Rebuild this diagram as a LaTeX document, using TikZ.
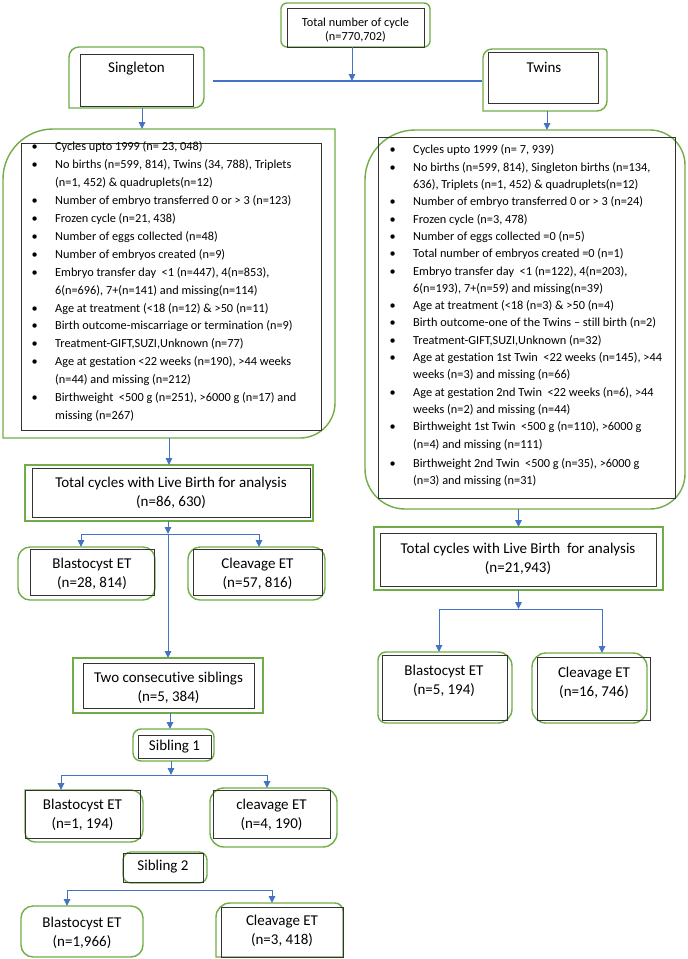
\documentclass[tikz,border=0pt]{standalone}
\usepackage{fontspec}
\setmainfont{Carlito}[Ligatures=NoCommon]
\usetikzlibrary{calc,arrows.meta}
\definecolor{grn}{HTML}{70AD47}
\definecolor{blu}{HTML}{4472C4}
\newcommand\mkbox[6][]{\node[#1, minimum width={#5-#3}, minimum height={#6-#4}] (#2) at ({(#3+#5)/2},{(#4+#6)/2}) {};}
\newcommand\gfr[5]{%
 \draw[gline]
  ($(#1.north west)+(#2,0)$) -- ($(#1.north east)+(-#3,0)$)
  .. controls ($(#1.north east)+(-0.45*#3,0)$) and ($(#1.north east)+(0,0.45*#3)$) .. ($(#1.north east)+(0,#3)$)
  -- ($(#1.south east)+(0,-#4)$)
  .. controls ($(#1.south east)+(0,-0.45*#4)$) and ($(#1.south east)+(-0.45*#4,0)$) .. ($(#1.south east)+(-#4,0)$)
  -- ($(#1.south west)+(#5,0)$)
  .. controls ($(#1.south west)+(0.45*#5,0)$) and ($(#1.south west)+(0,-0.45*#5)$) .. ($(#1.south west)+(0,-#5)$)
  -- ($(#1.north west)+(0,#2)$)
  .. controls ($(#1.north west)+(0,0.45*#2)$) and ($(#1.north west)+(0.45*#2,0)$) .. ($(#1.north west)+(#2,0)$)
  -- cycle;}
\tikzset{
 frm/.style={rectangle, inner sep=0pt, outer sep=0pt},
 bbox/.style={rectangle, draw=black!80, line width=0.8pt, inner sep=0pt, outer sep=0pt},
 gline/.style={draw=grn, line width=1.4pt},
 arr/.style={draw=blu, line width=0.9pt, -{Triangle[width=6.5pt,length=7pt]}},
 bln/.style={draw=blu, line width=0.9pt},
 btxt/.style={align=center, inner sep=0pt, font=\fontsize{15}{19}\selectfont},
 ltxt/.style={anchor=base west, inner sep=0pt},
}
\begin{document}
\begin{tikzpicture}[x=1pt,y=-1pt]
\useasboundingbox (0,0) rectangle (688,959);
% ---------- top
\mkbox[frm]{TotF}{281}{3}{430}{47}
\gfr{TotF}{6}{6}{6}{6}
\mkbox[bbox]{TotB}{287}{8}{424}{47}
\node[align=center, inner sep=0pt, font=\fontsize{12.3}{14}\selectfont] (TotT) at (355.5,30) {Total number of cycle\\(n=770,702)};
\coordinate (hT) at (352,81);
\coordinate (hL) at (213,81);
\coordinate (hR) at (482,81);
\draw[arr] (TotF.south -| hT) -- (hT);
\draw[draw=blu, line width=2pt] (hL) -- (hR);
% Singleton
\mkbox[frm]{SgF}{69}{47}{204}{108}
\gfr{SgF}{10}{3}{10}{0}
\mkbox[bbox]{SgB}{80}{54}{193}{106}
\node[btxt] (SgT) at (136.5,69) {Singleton};
% Twins
\mkbox[frm]{TwF}{483}{49}{607}{111}
\gfr{TwF}{9}{3}{10}{0}
\mkbox[bbox]{TwB}{488}{52}{598}{103}
\node[btxt] (TwT) at (544,67) {Twins};
% ---------- singleton list
\mkbox[frm]{SLF}{3}{129}{335}{438}
\gfr{SLF}{50}{0}{35}{0}
\mkbox[bbox]{SLB}{21}{143}{321}{430}
\node[ltxt, font=\fontsize{12.3}{17.9}\selectfont] (SLT) at (31.5,150.9) {\begin{tabular}[t]{@{}p{23.5pt}@{}l@{}}
\textbullet & Cycles upto 1999 (n= 23, 048)\\
\textbullet & No births (n=599, 814), Twins (34, 788), Triplets\\
 & (n=1, 452) \& quadruplets(n=12)\\
\textbullet & Number of embryo transferred 0 or > 3 (n=123)\\
\textbullet & Frozen cycle (n=21, 438)\\
\textbullet & Number of eggs collected (n=48)\\
\textbullet & Number of embryos created (n=9)\\
\textbullet & Embryo transfer day\ \ <1 (n=447), 4(n=853),\\
 & 6(n=696), 7+(n=141) and missing(n=114)\\
\textbullet & Age at treatment (<18 (n=12) \& >50 (n=11)\\
\textbullet & Birth outcome-miscarriage or termination (n=9)\\
\textbullet & Treatment-GIFT,SUZI,Unknown (n=77)\\
\textbullet & Age at gestation <22 weeks (n=190), >44 weeks\\
 & (n=44) and missing (n=212)\\
\textbullet & Birthweight\ \ <500 g (n=251), >6000 g (n=17) and\\
 & missing (n=267)
\end{tabular}};
% ---------- twins list
\mkbox[frm]{TLF}{365}{130}{685}{509}
\gfr{TLF}{50}{35}{35}{40}
\mkbox[bbox]{TLB}{378}{137}{675}{498}
\node[ltxt, font=\fontsize{12.3}{17.3}\selectfont] (TLT) at (389.5,153.9) {\begin{tabular}[t]{@{}p{23.5pt}@{}l@{}}
\textbullet & Cycles upto 1999 (n= 7, 939)\\
\textbullet & No births (n=599, 814), Singleton births (n=134,\\
 & 636), Triplets (n=1, 452) \& quadruplets(n=12)\\
\textbullet & Number of embryo transferred 0 or > 3 (n=24)\\
\textbullet & Frozen cycle (n=3, 478)\\
\textbullet & Number of eggs collected =0 (n=5)\\
\textbullet & Total number of embryos created =0 (n=1)\\
\textbullet & Embryo transfer day\ \ <1 (n=122), 4(n=203),\\
 & 6(n=193), 7+(n=59) and missing(n=39)\\
\textbullet & Age at treatment (<18 (n=3) \& >50 (n=4)\\
\textbullet & Birth outcome-one of the Twins – still birth (n=2)\\
\textbullet & Treatment-GIFT,SUZI,Unknown (n=32)\\
\textbullet & Age at gestation 1st Twin\ \ <22 weeks (n=145), >44\\
 & weeks (n=3) and missing (n=66)\\
\textbullet & Age at gestation 2nd Twin\ \ <22 weeks (n=6), >44\\
 & weeks (n=2) and missing (n=44)\\
\textbullet & Birthweight 1st Twin\ \ <500 g (n=110), >6000 g\\
 & (n=4) and missing (n=111)\\[1.7pt]
\textbullet & Birthweight 2nd Twin\ \ <500 g (n=35), >6000 g\\
 & (n=3) and missing (n=31)
\end{tabular}};
\draw[arr] ([xshift=5.5pt]SgF.south) -- ([xshift=5.5pt]SgF.south |- SLF.north);
\draw[arr] ([xshift=2pt]TwF.south) -- ([xshift=2pt]TwF.south |- TLF.north);
% ---------- singleton analysis
\mkbox[frm]{STF}{25}{465}{313}{521}
\gfr{STF}{0}{0}{0}{0}
\mkbox[bbox]{STB}{32}{468}{310}{517}
\node[btxt] (STT) at (171,493) {Total cycles with Live Birth for analysis\\(n=86, 630)};
\draw[arr] (STF.north |- SLF.south) -- (STF.north);
\mkbox[frm]{SBF}{18}{547}{155}{600}
\gfr{SBF}{12}{12}{12}{12}
\mkbox[bbox]{SBB}{30}{549}{154}{595}
\node[btxt] (SBT) at (92,573.5) {Blastocyst ET\\(n=28, 814)};
\mkbox[frm]{SCF}{188}{547}{325}{600}
\gfr{SCF}{12}{12}{12}{12}
\mkbox[bbox]{SCB}{193}{549}{322}{595}
\node[btxt] (SCT) at (257.5,573.5) {Cleavage ET\\(n=57, 816)};
\coordinate (j1) at (168,534);
\coordinate (j1L) at (81,534);
\coordinate (j1R) at (259,534);
\draw[arr] (STF.south -| j1) -- (j1);
\draw[bln] (j1L) -- (j1R);
\draw[arr] (j1L) -- (j1L |- SBF.north);
\draw[arr] (j1R) -- (j1R |- SCF.north);
\mkbox[frm]{TCF}{73}{658}{263}{713}
\gfr{TCF}{0}{0}{0}{0}
\mkbox[bbox]{TCB}{83}{663}{254}{708}
\node[btxt] (TCT) at (168.5,687.5) {Two consecutive siblings\\(n=5, 384)};
\draw[arr] (j1) -- (j1 |- TCF.north);
\mkbox[frm]{S1F}{133}{729}{214}{761}
\gfr{S1F}{8}{8}{8}{8}
\mkbox[bbox]{S1B}{138}{735}{211}{758}
\node[btxt] (S1T) at (174.5,747) {Sibling 1};
\draw[arr] ([xshift=2pt]TCF.south) -- ([xshift=2pt]TCF.south |- S1F.north);
\coordinate (j3) at (171,775);
\coordinate (j3L) at (61,775);
\coordinate (j3R) at (267,775);
\draw[arr] (S1F.south -| j3) -- (j3);
\draw[bln] (j3L) -- (j3R);
\mkbox[frm]{B1F}{25}{790}{143}{842}
\gfr{B1F}{0}{12}{12}{10}
\mkbox[bbox]{B1B}{25}{790}{140}{838}
\node[btxt] (B1T) at (82.5,815) {Blastocyst ET\\(n=1, 194)};
\mkbox[frm]{C1F}{210}{788}{337}{847}
\gfr{C1F}{14}{14}{14}{14}
\mkbox[bbox]{C1B}{213}{790}{330}{838}
\node[btxt] (C1T) at (271.5,815) {cleavage ET\\(n=4, 190)};
\draw[arr] (j3L) -- (j3L |- B1F.north);
\draw[arr] (j3R) -- (j3R |- C1F.north);
\mkbox[frm]{S2F}{123}{852}{207}{883}
\gfr{S2F}{8}{8}{8}{8}
\mkbox[bbox]{S2B}{123}{853}{203}{882}
\node[btxt] (S2T) at (163,867) {Sibling 2};
\coordinate (j4L) at (67,890);
\coordinate (j4R) at (272,890);
\draw[bln] (j4L) -- (j4R);
\mkbox[frm]{B2F}{21}{906}{143}{957}
\gfr{B2F}{12}{12}{12}{12}
\node[btxt] (B2T) at (82,932.5) {Blastocyst ET\\(n=1,966)};
\mkbox[frm]{C2F}{216}{903}{343}{957}
\gfr{C2F}{14}{8}{0}{0}
\mkbox[bbox]{C2B}{221}{907}{343}{957}
\node[btxt] (C2T) at (282,931) {Cleavage ET\\(n=3, 418)};
\draw[arr] (j4L) -- (j4L |- B2F.north);
\draw[arr] (j4R) -- (j4R |- C2F.north);
% ---------- twins analysis
\mkbox[frm]{TTF}{374}{527}{663}{590}
\gfr{TTF}{0}{0}{0}{0}
\mkbox[bbox]{TTB}{380}{533}{656}{586}
\node[btxt] (TTT) at (518,559) {Total cycles with Live Birth\ \ for analysis\\(n=21,943)};
\draw[arr] (TTF.north |- TLF.south) -- (TTF.north);
\coordinate (j2L) at (439,609);
\coordinate (j2R) at (602,609);
\draw[arr] (TTF.south) -- (TTF.south |- j2L);
\draw[bln] (j2L) -- (j2R);
\mkbox[frm]{T2BF}{378}{652}{512}{723}
\gfr{T2BF}{8}{14}{14}{8}
\mkbox[bbox]{T2BB}{382}{655}{507}{720}
\node[btxt] (T2BT) at (444,680.5) {Blastocyst ET\\(n=5, 194)};
\mkbox[frm]{T2CF}{532}{653}{647}{723}
\gfr{T2CF}{14}{14}{14}{14}
\mkbox[bbox]{T2CB}{537}{657}{650}{720}
\node[btxt] (T2CT) at (594,682.5) {Cleavage ET\\(n=16, 746)};
\draw[arr] (j2L) -- (j2L |- T2BF.north);
\draw[arr] (j2R) -- (j2R |- T2CF.north);
\end{tikzpicture}
\end{document}
